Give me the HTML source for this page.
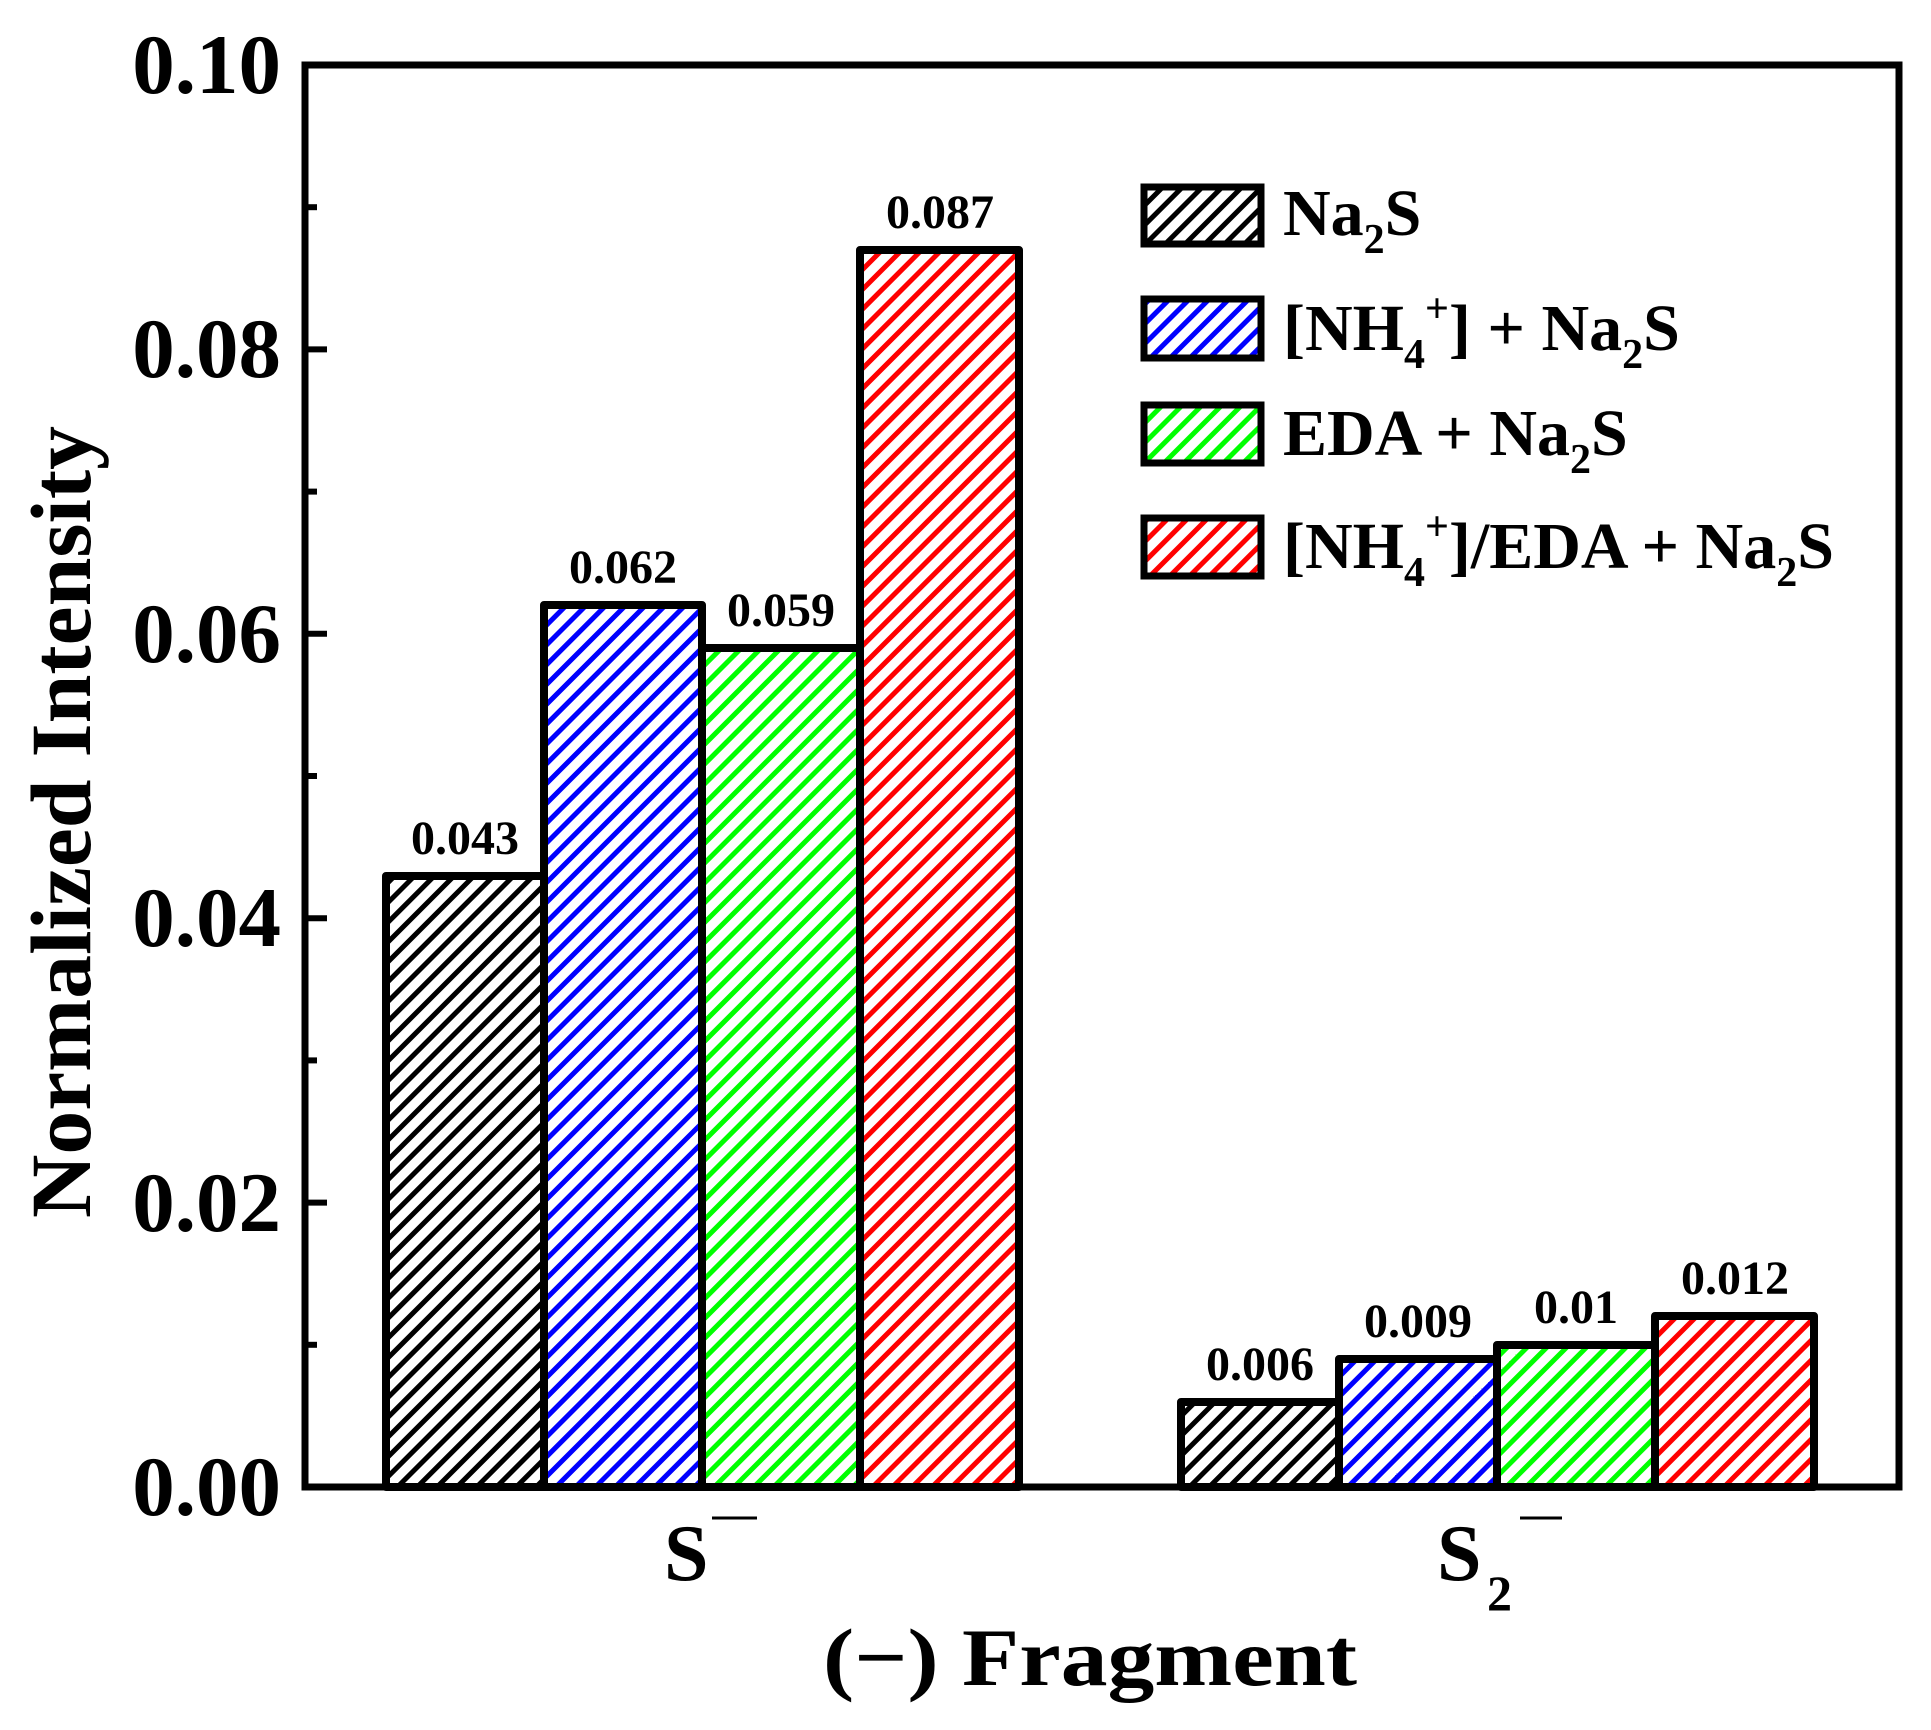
<!DOCTYPE html>
<html><head><meta charset="utf-8"><style>html,body{margin:0;padding:0;background:#fff}svg{display:block}</style></head>
<body>
<svg width="1931" height="1730" viewBox="0 0 1931 1730" xmlns="http://www.w3.org/2000/svg" font-family="'Liberation Serif', serif" font-weight="bold">
<defs>
<pattern id="hk" width="14" height="14" patternUnits="userSpaceOnUse" patternTransform="rotate(45)"><rect width="14" height="14" fill="#fff"/><rect x="0" y="0" width="5" height="14" fill="#000"/></pattern>
<pattern id="hb" width="14" height="14" patternUnits="userSpaceOnUse" patternTransform="rotate(45)"><rect width="14" height="14" fill="#fff"/><rect x="0" y="0" width="5" height="14" fill="#0000ff"/></pattern>
<pattern id="hg" width="14" height="14" patternUnits="userSpaceOnUse" patternTransform="rotate(45)"><rect width="14" height="14" fill="#fff"/><rect x="0" y="0" width="5" height="14" fill="#00ff00"/></pattern>
<pattern id="hr" width="14" height="14" patternUnits="userSpaceOnUse" patternTransform="rotate(45)"><rect width="14" height="14" fill="#fff"/><rect x="0" y="0" width="5" height="14" fill="#ff0000"/></pattern>
</defs>
<rect width="1931" height="1730" fill="#fff"/>
<g stroke="#000" stroke-width="8" stroke-linejoin="round">
<rect x="386" y="876" width="158" height="611" fill="url(#hk)"/>
<rect x="544" y="605" width="158" height="882" fill="url(#hb)"/>
<rect x="702" y="648" width="158" height="839" fill="url(#hg)"/>
<rect x="860" y="250" width="159" height="1237" fill="url(#hr)"/>
<rect x="1181" y="1402" width="158" height="85" fill="url(#hk)"/>
<rect x="1339" y="1359" width="158" height="128" fill="url(#hb)"/>
<rect x="1497" y="1345" width="158" height="142" fill="url(#hg)"/>
<rect x="1655" y="1316" width="159" height="171" fill="url(#hr)"/>
</g>
<rect x="305" y="65" width="1594" height="1422" fill="none" stroke="#000" stroke-width="7"/>
<g stroke="#000" stroke-width="6">
<line x1="305" y1="65" x2="327" y2="65"/><line x1="305" y1="349.4" x2="327" y2="349.4"/><line x1="305" y1="633.8" x2="327" y2="633.8"/><line x1="305" y1="918.2" x2="327" y2="918.2"/><line x1="305" y1="1202.6" x2="327" y2="1202.6"/>
<line x1="305" y1="207.2" x2="317" y2="207.2"/><line x1="305" y1="491.6" x2="317" y2="491.6"/><line x1="305" y1="776" x2="317" y2="776"/><line x1="305" y1="1060.4" x2="317" y2="1060.4"/><line x1="305" y1="1344.8" x2="317" y2="1344.8"/>
</g>
<g font-size="85" text-anchor="end" fill="#000">
<text x="281" y="93">0.10</text>
<text x="281" y="377">0.08</text>
<text x="281" y="662">0.06</text>
<text x="281" y="946">0.04</text>
<text x="281" y="1231">0.02</text>
<text x="281" y="1515">0.00</text>
</g>
<g font-size="48" text-anchor="middle" fill="#000">
<text x="465" y="854">0.043</text>
<text x="623" y="583">0.062</text>
<text x="781" y="626">0.059</text>
<text x="940" y="228">0.087</text>
<text x="1260" y="1380">0.006</text>
<text x="1418" y="1337">0.009</text>
<text x="1576" y="1323">0.01</text>
<text x="1735" y="1294">0.012</text>
</g>
<text transform="translate(90,822) rotate(-90)" font-size="86" text-anchor="middle" textLength="792" lengthAdjust="spacingAndGlyphs">Normalized Intensity</text>
<text x="664" y="1580" font-size="80">S</text>
<line x1="712" y1="1518" x2="757" y2="1518" stroke="#000" stroke-width="3"/>
<text x="1437" y="1580" font-size="80">S</text>
<text x="1487" y="1610" font-size="50">2</text>
<line x1="1520" y1="1518" x2="1562" y2="1518" stroke="#000" stroke-width="3"/>
<text x="823" y="1685" font-size="82" textLength="534" lengthAdjust="spacingAndGlyphs">(−) Fragment</text>
<g stroke="#000" stroke-width="7">
<rect x="1144" y="187" width="117" height="57" fill="url(#hk)"/>
<rect x="1144" y="299" width="117" height="59" fill="url(#hb)"/>
<rect x="1144" y="405" width="117" height="58" fill="url(#hg)"/>
<rect x="1144" y="518" width="117" height="58" fill="url(#hr)"/>
</g>
<g font-size="66" fill="#000">
<text x="1283" y="235">Na<tspan font-size="42" dy="18">2</tspan><tspan dy="-18">S</tspan></text>
<text x="1283" y="350">[NH<tspan font-size="42" dy="18">4</tspan><tspan font-size="42" dy="-46">+</tspan><tspan dy="28">] + Na</tspan><tspan font-size="42" dy="18">2</tspan><tspan dy="-18">S</tspan></text>
<text x="1283" y="455">EDA + Na<tspan font-size="42" dy="18">2</tspan><tspan dy="-18">S</tspan></text>
<text x="1283" y="568">[NH<tspan font-size="42" dy="18">4</tspan><tspan font-size="42" dy="-46">+</tspan><tspan dy="28">]/EDA + Na</tspan><tspan font-size="42" dy="18">2</tspan><tspan dy="-18">S</tspan></text>
</g>
</svg>
</body></html>
